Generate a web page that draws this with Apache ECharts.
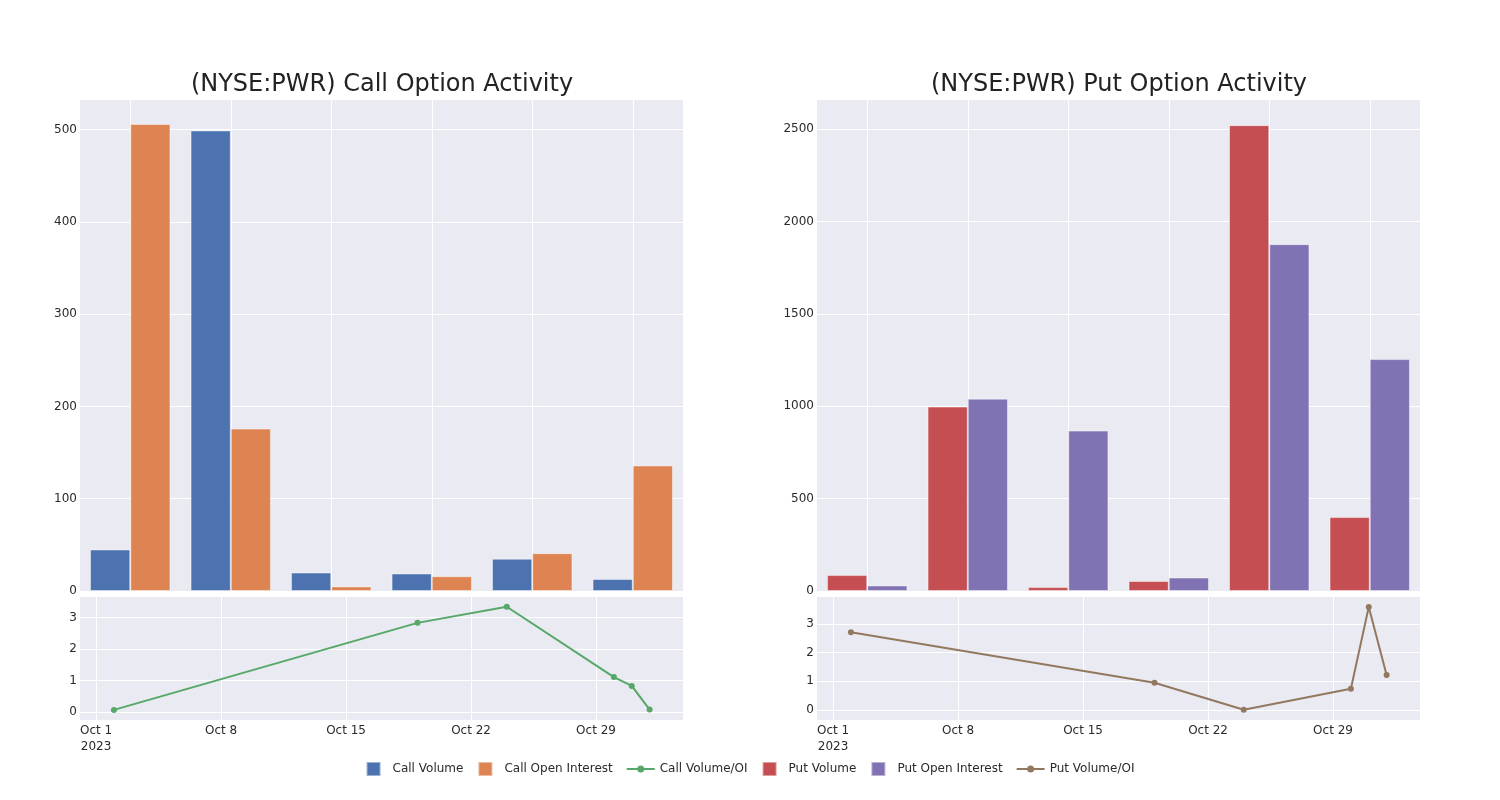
<!DOCTYPE html>
<html>
<head>
<meta charset="utf-8">
<script src="https://cdn.jsdelivr.net/npm/echarts@6/dist/echarts.min.js"></script>
<style>html,body{margin:0;padding:0;background:#fff}#c{width:1500px;height:800px}</style>
</head>
<body>
<div id="c"></div>
<script>
// ---- data ----
const barCategories = ['1', '2', '3', '4', '5', '6'];
const callVolume = [45, 499, 20, 19, 35, 13];
const callOpenInterest = [506, 176, 5, 16, 41, 136];
const putVolume = [86, 998, 21, 54, 2521, 400];
const putOpenInterest = [30, 1041, 868, 73, 1877, 1255];
const ratioDates = ['2023-10-02', '2023-10-19', '2023-10-24', '2023-10-30', '2023-10-31', '2023-11-01'];
const callRatio = [0.07, 2.83, 3.34, 1.11, 0.83, 0.08];
const putRatio = [2.71, 0.95, 0.01, 0.74, 3.59, 1.22];
const tickDates = ['2023-10-01', '2023-10-08', '2023-10-15', '2023-10-22', '2023-10-29'];
const tickLabels = ['Oct 1\n2023', 'Oct 8', 'Oct 15', 'Oct 22', 'Oct 29'];
const callTicks = [0, 100, 200, 300, 400, 500];
const putTicks = [0, 500, 1000, 1500, 2000, 2500];
const ratioTicks = [0, 1, 2, 3];
const callTitle = '(NYSE:PWR) Call Option Activity';
const putTitle = '(NYSE:PWR) Put Option Activity';

// ---- helpers ----
const DAY = 86400000;
const ts = s => { const p = s.split('-').map(Number); return Date.UTC(p[0], p[1] - 1, p[2]); };
const t0 = ts('2023-10-01');
const xMin = t0 - 0.9 * DAY, xMax = t0 + 32.87 * DAY;
const tickTs = tickDates.map(ts);
const FONT = 'DejaVu Sans';
const BG = '#EAEAF2';
const C = { blue: '#4C72B0', orange: '#DD8452', green: '#55A868', red: '#C44E52', purple: '#8172B3', brown: '#937860' };

const gridDefs = [
  { left: 80, top: 100, width: 603, height: 491 },
  { left: 80, top: 597, width: 603, height: 123 },
  { left: 817, top: 100, width: 603, height: 491 },
  { left: 817, top: 597, width: 603, height: 123 }
];
const grid = gridDefs.map(g => Object.assign({ show: true, backgroundColor: BG, borderWidth: 0 }, g));

const split = { show: true, lineStyle: { color: '#fff', width: 1 } };
const lbl = { color: '#2a2a2a', fontFamily: FONT, fontSize: 12 };

function catAxis(gi) {
  return {
    type: 'category', gridIndex: gi, data: barCategories, boundaryGap: true,
    axisLine: { show: false }, axisTick: { show: false, alignWithLabel: true }, axisLabel: { show: false },
    splitLine: Object.assign({ alignWithLabel: true }, split)
  };
}
function dateAxis(gi) {
  return {
    type: 'value', gridIndex: gi, min: xMin, max: xMax, scale: true,
    axisLine: { show: false },
    axisTick: { show: false, customValues: tickTs },
    axisLabel: Object.assign({}, lbl, {
      customValues: tickTs, margin: 3, lineHeight: 16,
      formatter: v => { const i = tickTs.indexOf(v); return i >= 0 ? tickLabels[i] : ''; }
    }),
    splitLine: split
  };
}
function valAxis(gi, min, max, ticks) {
  return {
    type: 'value', gridIndex: gi, min: min, max: max,
    axisLine: { show: false }, axisTick: { show: false, customValues: ticks },
    axisLabel: Object.assign({}, lbl, { margin: 3, customValues: ticks, formatter: v => String(v) }),
    splitLine: split
  };
}

const barStyle = col => ({ color: col, borderColor: 'rgba(255,255,255,0.45)', borderWidth: 1 });
function bars(name, data, col, xi, yi) {
  return { name, type: 'bar', xAxisIndex: xi, yAxisIndex: yi, data, barGap: '0%', barCategoryGap: '20%', itemStyle: barStyle(col), silent: true };
}
function line(name, data, col, xi, yi) {
  return {
    name, type: 'line', xAxisIndex: xi, yAxisIndex: yi,
    data: ratioDates.map((d, i) => [ts(d), data[i]]),
    symbol: 'circle', symbolSize: 6, showSymbol: true,
    lineStyle: { color: col, width: 2 }, itemStyle: { color: col }, silent: true
  };
}

const sq = 'path://M8,1L20,1L20,13L8,13Z';
const lineIcon = 'path://M0,6L11,6L11,8L0,8Z M17,6L28,6L28,8L17,8Z M10.5,7A3.5,3.5 0 1 1 17.5,7A3.5,3.5 0 1 1 10.5,7Z';
const option = {
  animation: false,
  backgroundColor: '#fff',
  title: [
    { text: callTitle, left: 377, top: 68, textAlign: 'center', textStyle: { fontFamily: FONT, fontSize: 24, fontWeight: 'normal', color: '#222' } },
    { text: putTitle, left: 1114, top: 68, textAlign: 'center', textStyle: { fontFamily: FONT, fontSize: 24, fontWeight: 'normal', color: '#222' } }
  ],
  grid,
  xAxis: [catAxis(0), dateAxis(1), catAxis(2), dateAxis(3)],
  yAxis: [valAxis(0, 0, 532, callTicks), valAxis(1, -0.25, 3.65, ratioTicks), valAxis(2, 0, 2657, putTicks), valAxis(3, -0.35, 3.94, ratioTicks)],
  legend: {
    bottom: 18, left: 'center', itemGap: 14, itemWidth: 28, itemHeight: 14,
    textStyle: { fontFamily: FONT, fontSize: 12, color: '#2a2a2a' },
    data: [
      { name: 'Call Volume', icon: sq },
      { name: 'Call Open Interest', icon: sq },
      { name: 'Call Volume/OI', icon: lineIcon },
      { name: 'Put Volume', icon: sq },
      { name: 'Put Open Interest', icon: sq },
      { name: 'Put Volume/OI', icon: lineIcon }
    ]
  },
  series: [
    bars('Call Volume', callVolume, C.blue, 0, 0),
    bars('Call Open Interest', callOpenInterest, C.orange, 0, 0),
    line('Call Volume/OI', callRatio, C.green, 1, 1),
    bars('Put Volume', putVolume, C.red, 2, 2),
    bars('Put Open Interest', putOpenInterest, C.purple, 2, 2),
    line('Put Volume/OI', putRatio, C.brown, 3, 3)
  ]
};
const chart = echarts.init(document.getElementById('c'), null, { renderer: 'canvas' });
chart.setOption(option);
</script>
</body>
</html>
